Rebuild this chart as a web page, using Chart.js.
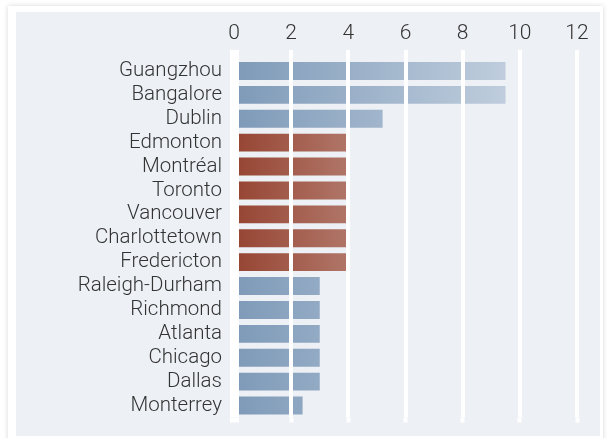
<!DOCTYPE html>
<html><head><meta charset="utf-8">
<script src="https://cdn.jsdelivr.net/npm/chart.js@4"></script>
<style>
html,body{margin:0;padding:0;background:#fff;width:607px;height:438px;overflow:hidden}
#card{position:absolute;left:8px;top:6px;width:595px;height:445px;background:#fff;box-shadow:0 0 5px rgba(0,0,0,0.16)}
#panel{position:absolute;left:16px;top:12px;width:584px;height:424px;background:#edf0f5}
#wrap{position:absolute;left:0;top:0;width:607px;height:438px}
</style></head><body>
<div id="card"></div><div id="panel"></div>
<div id="wrap"><canvas id="c" width="607" height="438"></canvas></div>
<script>
const cities = ['Guangzhou','Bangalore','Dublin','Edmonton','Montréal','Toronto','Vancouver','Charlottetown','Fredericton','Raleigh-Durham','Richmond','Atlanta','Chicago','Dallas','Monterrey'];
const values = [9.5, 9.5, 5.2, 4, 4, 4, 4, 4, 4, 3, 3, 3, 3, 3, 2.4];
const groups = ['other','other','other','canada','canada','canada','canada','canada','canada','other','other','other','other','other','other'];
const xTicks = [0, 2, 4, 6, 8, 10, 12];

const blueStops = ['#7e9ab8', '#bfcddd'];
const redStops = ['#964432', '#b07668'];
const textColor = '#333333';
const font = {family: "Roboto, 'DejaVu Sans', sans-serif", size: 20.5, weight: '300', lineHeight: 0.8};
const tickFont = {family: "Roboto, 'DejaVu Sans', sans-serif", size: 21, weight: '300'};

function barFill(ctx) {
  const chart = ctx.chart;
  const g = groups[ctx.dataIndex];
  const stops = g === 'canada' ? redStops : blueStops;
  const end = g === 'canada' ? 4 : 9.5;
  if (!chart.chartArea) return stops[0];
  const x = chart.scales.x;
  const grad = chart.ctx.createLinearGradient(x.getPixelForValue(0), 0, x.getPixelForValue(end), 0);
  grad.addColorStop(0, stops[0]);
  grad.addColorStop(1, stops[1]);
  return grad;
}
const lineW = (c) => (c.tick && c.tick.value === 0 ? 9 : 4);

new Chart(document.getElementById('c'), {
  type: 'bar',
  data: {
    labels: cities,
    datasets: [{data: values, backgroundColor: barFill, borderWidth: 0, barPercentage: 0.75, categoryPercentage: 1}]
  },
  options: {
    indexAxis: 'y',
    responsive: false,
    animation: false,
    devicePixelRatio: 1,
    layout: {padding: {top: 0, left: 0, right: 30, bottom: 15.5}},
    plugins: {legend: {display: false}, tooltip: {enabled: false}},
    scales: {
      x: {
        type: 'linear', position: 'top', min: 0, max: 12,
        afterBuildTicks: (s) => { s.ticks = xTicks.map(v => ({value: v})); },
        afterFit: (s) => { s.height = 59; },
        grid: {color: '#ffffff', lineWidth: lineW, z: 1, drawTicks: true, tickLength: 9, tickColor: '#ffffff', tickWidth: lineW},
        border: {display: false},
        ticks: {color: textColor, font: tickFont, padding: 4, maxRotation: 0}
      },
      x2: {
        type: 'linear', position: 'bottom', min: 0, max: 12,
        afterBuildTicks: (s) => { s.ticks = xTicks.map(v => ({value: v})); },
        afterFit: (s) => { s.height = 5; },
        grid: {color: '#ffffff', drawOnChartArea: false, drawTicks: true, tickLength: 5, tickColor: '#ffffff', tickWidth: lineW, z: 1},
        border: {display: false},
        ticks: {display: false}
      },
      y: {
        type: 'category', position: 'left', offset: true,
        afterFit: (s) => { s.width = 234; },
        grid: {display: false, drawTicks: false},
        border: {display: false},
        ticks: {color: textColor, font: font, padding: 12, autoSkip: false}
      }
    }
  }
});
</script>
</body></html>
